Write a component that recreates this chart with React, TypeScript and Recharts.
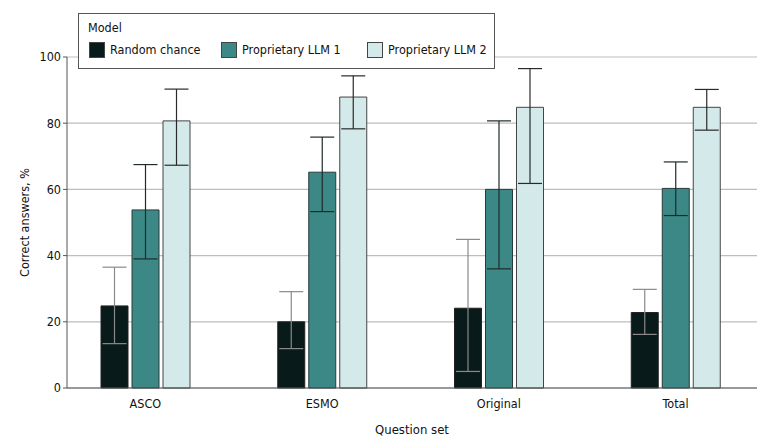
import React from 'react';
import { BarChart, Bar, XAxis, YAxis, CartesianGrid, ErrorBar, Label } from 'recharts';

const categories = ['ASCO', 'ESMO', 'Original', 'Total'];
const randomChance = [24.8, 20.0, 24.1, 22.8];
const randomLow = [13.4, 11.9, 5.0, 16.2];
const randomHigh = [36.5, 29.1, 44.9, 29.8];
const llm1 = [53.8, 65.2, 60.0, 60.3];
const llm1Low = [39.0, 53.3, 36.0, 52.1];
const llm1High = [67.5, 75.8, 80.7, 68.3];
const llm2 = [80.7, 87.9, 84.8, 84.8];
const llm2Low = [67.3, 78.3, 61.8, 77.9];
const llm2High = [90.3, 94.3, 96.5, 90.2];
const yTicks = [0, 20, 40, 60, 80, 100];

const seriesNames = ['Random chance', 'Proprietary LLM 1', 'Proprietary LLM 2'];
const colors = ['#081a19', '#3b8886', '#d4e9ea'];

const data = categories.map((c, i) => ({
  name: c,
  rc: randomChance[i],
  rcErr: [randomChance[i] - randomLow[i], randomHigh[i] - randomChance[i]],
  l1: llm1[i],
  l1Err: [llm1[i] - llm1Low[i], llm1High[i] - llm1[i]],
  l2: llm2[i],
  l2Err: [llm2[i] - llm2Low[i], llm2High[i] - llm2[i]],
}));

const FONT = "'DejaVu Sans Condensed', 'DejaVu Sans', sans-serif";
const FS = 12.5;

const LegendBox = () => {
  const itemX = [10, 142, 288];
  return (
    <div
      style={{
        position: 'absolute',
        left: 78,
        top: 13,
        width: 417,
        height: 56,
        boxSizing: 'border-box',
        border: '1px solid #555',
        background: '#fff',
        fontFamily: FONT,
        fontSize: FS,
        lineHeight: '16px',
        color: '#111',
      }}
    >
      <div style={{ position: 'absolute', left: 9, top: 6 }}>Model</div>
      {seriesNames.map((n, i) => (
        <div key={n} style={{ position: 'absolute', left: itemX[i], top: 28, display: 'flex', alignItems: 'center', whiteSpace: 'nowrap' }}>
          <span
            style={{
              display: 'inline-block',
              width: 16,
              height: 16,
              boxSizing: 'border-box',
              background: colors[i],
              border: '1px solid #444',
              marginRight: 5,
            }}
          />
          <span>{n}</span>
        </div>
      ))}
    </div>
  );
};

export default function App() {
  return (
    <div style={{ position: 'absolute', left: 0, top: 0, width: 780, height: 445, background: '#fff' }}>
      <BarChart
        width={780}
        height={445}
        data={data}
        margin={{ top: 57, right: 23, left: 17, bottom: 27 }}
        barSize={27}
        barGap={4}
      >
        <CartesianGrid vertical={false} stroke="#bdbdbd" strokeWidth={1.2} />
        <XAxis
          dataKey="name"
          height={30}
          tickLine={false}
          axisLine={{ stroke: '#555' }}
          padding={{ left: -10, right: -7 }}
          tick={{ fill: '#111', fontSize: FS, fontFamily: FONT }}
          tickMargin={5}
        >
          <Label value="Question set" position="insideBottom" offset={-16} style={{ fill: '#111', fontSize: 13, fontFamily: FONT }} />
        </XAxis>
        <YAxis
          width={50}
          domain={[0, 100]}
          ticks={yTicks}
          interval={0}
          tickSize={4}
          tickLine={{ stroke: '#555' }}
          axisLine={{ stroke: '#555' }}
          tick={{ fill: '#111', fontSize: FS, fontFamily: FONT }}
        >
          <Label
            value="Correct answers, %"
            angle={-90}
            position="insideLeft"
            offset={8}
            style={{ textAnchor: 'middle', fill: '#111', fontSize: 12.5, fontFamily: FONT }}
          />
        </YAxis>
        <Bar dataKey="rc" name={seriesNames[0]} fill={colors[0]} stroke="#222" strokeWidth={1} isAnimationActive={false}>
          <ErrorBar dataKey="rcErr" width={12} stroke="#8a8a8a" strokeWidth={1.2} />
        </Bar>
        <Bar dataKey="l1" name={seriesNames[1]} fill={colors[1]} stroke="#2a3a3a" strokeWidth={1} isAnimationActive={false}>
          <ErrorBar dataKey="l1Err" width={12} stroke="#1e2b2b" strokeWidth={1.2} />
        </Bar>
        <Bar dataKey="l2" name={seriesNames[2]} fill={colors[2]} stroke="#444" strokeWidth={1} isAnimationActive={false}>
          <ErrorBar dataKey="l2Err" width={12} stroke="#2a2a2a" strokeWidth={1.2} />
        </Bar>
      </BarChart>
      <LegendBox />
    </div>
  );
}
